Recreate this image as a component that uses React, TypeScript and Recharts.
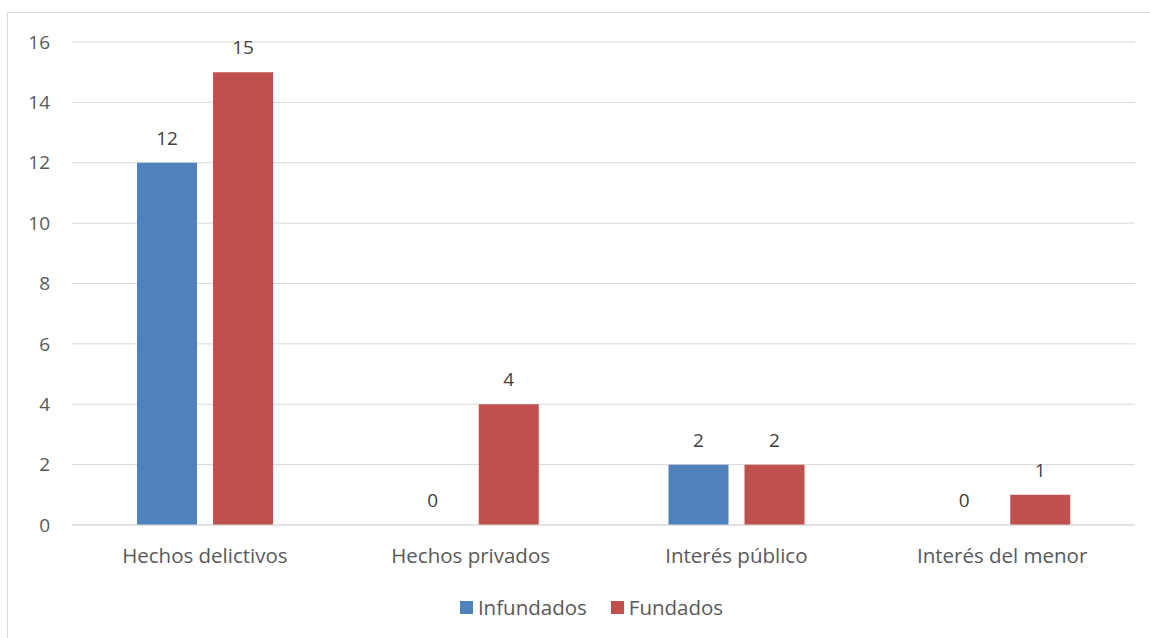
import React from "react";
import {
  BarChart,
  Bar,
  XAxis,
  YAxis,
  CartesianGrid,
  Legend,
  LabelList,
} from "recharts";

const categories = ["Hechos delictivos", "Hechos privados", "Interés público", "Interés del menor"];
const infundados = [12, 0, 2, 0];
const fundados = [15, 4, 2, 1];
const yTicks = [0, 2, 4, 6, 8, 10, 12, 14, 16];
const seriesNames = ["Infundados", "Fundados"];
const seriesColors = ["#4f81bd", "#c0504d"];

const data = categories.map((name, i) => ({
  name,
  Infundados: infundados[i],
  Fundados: fundados[i],
}));

const FONT = "'Open Sans', 'Noto Sans', sans-serif";
const TEXT = "#595959";
const FS = 19;
const FS_CAT = 20.5;

// legend in series order (recharts 3 sorts by name otherwise)
const renderLegend = () => (
  <div
    style={{
      display: "flex",
      justifyContent: "center",
      gap: 24,
      paddingLeft: 48,
      fontFamily: FONT,
      fontSize: 20.5,
      color: TEXT,
    }}
  >
    {seriesNames.map((s, i) => (
      <div key={s} style={{ display: "flex", alignItems: "center" }}>
        <span style={{ display: "inline-block", width: 13, height: 13, background: seriesColors[i], marginRight: 5 }} />
        <span>{s}</span>
      </div>
    ))}
  </div>
);

export default function App() {
  return (
    <div style={{ position: "absolute", left: 0, top: 0, width: 1150, height: 638, overflow: "hidden", background: "#fff" }}>
      <div
        style={{
          position: "absolute",
          left: 7,
          top: 12,
          width: 1160,
          height: 650,
          border: "1px solid #d9d9d9",
          boxSizing: "border-box",
        }}
      />
      <div style={{ position: "absolute", left: 0, top: 0 }}>
        <BarChart
          width={1150}
          height={638}
          data={data}
          margin={{ top: 42, right: 15, left: 0, bottom: 45 }}
          barSize={60}
          barGap={16}
        >
          <CartesianGrid vertical={false} stroke="#d9d9d9" />
          <XAxis
            dataKey="name"
            height={40}
            axisLine={{ stroke: "#d9d9d9" }}
            tickLine={false}
            tick={{ fontSize: FS_CAT, fill: TEXT, fontFamily: FONT, dy: 15 }}
          />
          <YAxis
            width={72}
            domain={[0, 16]}
            ticks={yTicks}
            axisLine={false}
            tickLine={false}
            tick={{ fontSize: FS, fill: TEXT, fontFamily: FONT, dx: -14 }}
          />
          <Legend verticalAlign="bottom" wrapperStyle={{ bottom: 17 }} content={renderLegend} />
          <Bar dataKey="Infundados" fill={seriesColors[0]} minPointSize={0.01} isAnimationActive={false}>
            <LabelList dataKey="Infundados" position="top" offset={18} fill="#404040" fontSize={FS} fontFamily={FONT} />
          </Bar>
          <Bar dataKey="Fundados" fill={seriesColors[1]} minPointSize={0.01} isAnimationActive={false}>
            <LabelList dataKey="Fundados" position="top" offset={18} fill="#404040" fontSize={FS} fontFamily={FONT} />
          </Bar>
        </BarChart>
      </div>
    </div>
  );
}
